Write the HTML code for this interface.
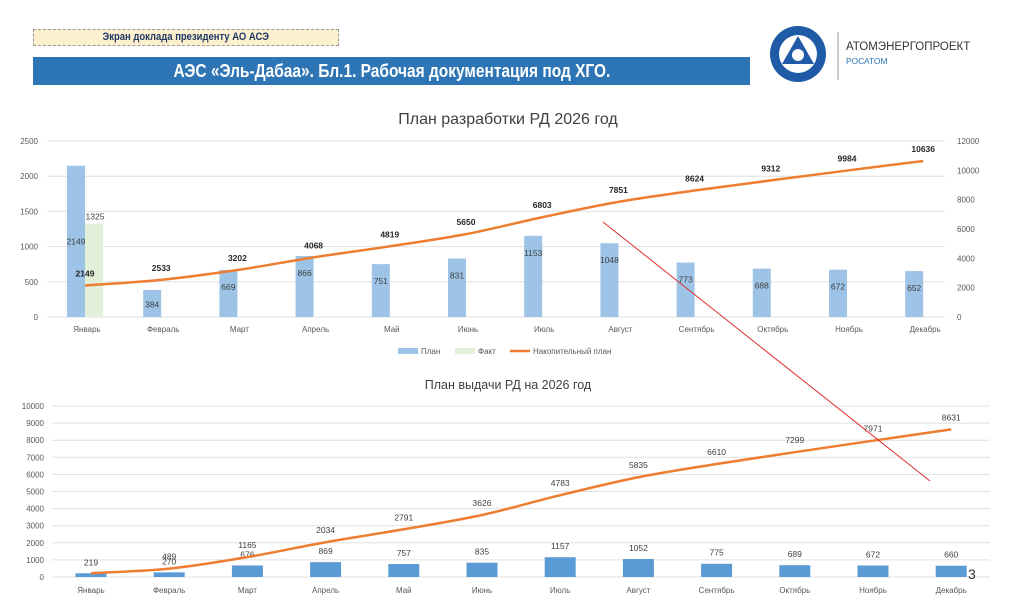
<!DOCTYPE html>
<html><head><meta charset="utf-8">
<style>
body{margin:0;width:1024px;height:603px;background:#fff;font-family:"Liberation Sans",sans-serif;overflow:hidden;position:relative}
.abs{position:absolute}
.narrow{display:inline-block;transform:scaleX(0.86);transform-origin:center}
</style></head><body>
<div class="abs" style="left:33px;top:29px;width:304px;height:15px;background:#fdf0cf;border:1px dashed #999;font-size:11px;font-weight:bold;color:#1f3864;text-align:center;line-height:15px;"><span class="narrow">Экран доклада президенту АО АСЭ</span></div>
<div class="abs" style="left:33px;top:57px;width:717px;height:28px;background:#2e75b6;color:#fff;font-size:18px;font-weight:bold;text-align:center;line-height:28px;"><span class="narrow">АЭС «Эль-Дабаа». Бл.1. Рабочая документация под ХГО.</span></div>
<svg class="abs" style="left:766px;top:24px" width="240" height="62">
<circle cx="32" cy="30" r="28" fill="#1f5aa6"/>
<circle cx="32" cy="30" r="19" fill="#fff"/>
<polygon points="32,12 48,40 16,40" fill="#1f5aa6"/>
<circle cx="32" cy="31" r="6" fill="#fff"/>
<line x1="72" y1="8" x2="72" y2="56" stroke="#999"/>
<text x="80" y="26" font-size="11.5" fill="#333" font-family="Liberation Sans">АТОМЭНЕРГОПРОЕКТ</text>
<text x="80" y="40" font-size="8.5" fill="#2e75b6" font-family="Liberation Sans">РОСАТОМ</text>
</svg>
<svg id="c" class="abs" style="left:0;top:0" width="1024" height="603"></svg>
<div class="abs" style="left:968px;top:566px;font-size:14px;color:#333">3</div>
<script>
const months=["Январь","Февраль","Март","Апрель","Май","Июнь","Июль","Август","Сентябрь","Октябрь","Ноябрь","Декабрь"];
const plan1=[2149,384,669,866,751,831,1153,1048,773,688,672,652];
const fact1=[1325];
const cum1=[2149,2533,3202,4068,4819,5650,6803,7851,8624,9312,9984,10636];
const leftTicks1=[0,500,1000,1500,2000,2500];
const rightTicks1=[0,2000,4000,6000,8000,10000,12000];
const plan2=[219,270,676,869,757,835,1157,1052,775,689,672,660];
const cum2=[219,489,1165,2034,2791,3626,4783,5835,6610,7299,7971,8631];
const ticks2=[0,1000,2000,3000,4000,5000,6000,7000,8000,9000,10000];
const NS="http://www.w3.org/2000/svg";
const svg=document.getElementById('c');
function el(t,a,txt){const e=document.createElementNS(NS,t);for(const k in a)e.setAttribute(k,a[k]);if(txt!==undefined)e.textContent=txt;svg.appendChild(e);return e;}
function smooth(pts){let d="M"+pts[0][0]+","+pts[0][1];for(let i=0;i<pts.length-1;i++){const p0=pts[i-1]||pts[i],p1=pts[i],p2=pts[i+1],p3=pts[i+2]||p2;const c1x=p1[0]+(p2[0]-p0[0])/6,c1y=p1[1]+(p2[1]-p0[1])/6,c2x=p2[0]-(p3[0]-p1[0])/6,c2y=p2[1]-(p3[1]-p1[1])/6;d+=" C"+c1x+","+c1y+" "+c2x+","+c2y+" "+p2[0]+","+p2[1];}return d;}
// Chart 1
const x1=i=>85+i*76.2, yL=v=>317-v/2500*176, yR=v=>317-v/12000*176;
let t=el('text',{x:508,y:124,'font-size':16,fill:'#404040','text-anchor':'middle'},'План  разработки РД 2026 год');

leftTicks1.forEach(v=>{let g=el('line',{x1:47,x2:945,y1:yL(v),y2:yL(v),stroke:'#e0e0e0'});
let l=el('text',{x:38,y:yL(v)+3,'font-size':8,fill:'#595959','text-anchor':'end'},v);});
rightTicks1.forEach(v=>{let l=el('text',{x:957,y:yR(v)+3,'font-size':8,fill:'#595959'},v);});
months.forEach((m,i)=>{const cx=x1(i);
let b=el('rect',{x:cx-18,y:yL(plan1[i]),width:18,height:317-yL(plan1[i]),fill:'#9dc3e6'});
let l=el('text',{x:cx-9,y:(i==0?yL(plan1[i])+79:yL(plan1[i])+Math.min(20,(317-yL(plan1[i]))/2+4)),'font-size':8.5,fill:'#404040','text-anchor':'middle'},plan1[i]);
let x=el('text',{x:cx+2,y:332,'font-size':8,fill:'#595959','text-anchor':'middle'},m);});
fact1.forEach((v,i)=>{const cx=x1(i);let b=el('rect',{x:cx,y:yL(v),width:18,height:317-yL(v),fill:'#e2efd9'});
let l=el('text',{x:cx+10,y:yL(v)-4,'font-size':8.5,fill:'#404040','text-anchor':'middle'},v);});
const p1=cum1.map((v,i)=>[x1(i),yR(v)]);
let ln=el('path',{d:smooth(p1),fill:'none',stroke:'#ed7d31','stroke-width':2.5});
cum1.forEach((v,i)=>{let l=el('text',{x:x1(i),y:yR(v)-9,'font-size':8.5,'font-weight':'bold',fill:'#262626','text-anchor':'middle'},v);});
// legend
let r=el('rect',{x:398,y:348,width:20,height:6,fill:'#9dc3e6'});
el('text',{x:421,y:354,'font-size':8,fill:'#595959'},'План');
r=el('rect',{x:455,y:348,width:20,height:6,fill:'#e2efd9'});
el('text',{x:478,y:354,'font-size':8,fill:'#595959'},'Факт');
r=el('line',{x1:510,x2:530,y1:351,y2:351,stroke:'#ed7d31','stroke-width':2.5});
el('text',{x:533,y:354,'font-size':8,fill:'#595959'},'Накопительный план');
// Chart 2
const x2=i=>91+i*78.2, y2=v=>577-v/10000*171;
t=el('text',{x:508,y:389,'font-size':12.5,fill:'#404040','text-anchor':'middle'},'План выдачи РД на 2026 год');

ticks2.forEach(v=>{let g=el('line',{x1:52,x2:990,y1:y2(v),y2:y2(v),stroke:'#e0e0e0'});
let l=el('text',{x:44,y:y2(v)+3,'font-size':8,fill:'#595959','text-anchor':'end'},v);});
months.forEach((m,i)=>{const cx=x2(i);
let b=el('rect',{x:cx-15.5,y:y2(plan2[i]),width:31,height:577-y2(plan2[i]),fill:'#5b9bd5'});
let l=el('text',{x:cx,y:y2(plan2[i])-8,'font-size':8.5,fill:'#404040','text-anchor':'middle'},plan2[i]);
let x=el('text',{x:cx,y:593,'font-size':8,fill:'#595959','text-anchor':'middle'},m);});
const p2=cum2.map((v,i)=>[x2(i),y2(v)]);
ln=el('path',{d:smooth(p2),fill:'none',stroke:'#ed7d31','stroke-width':2.5});
cum2.forEach((v,i)=>{if(i===0)return;let l=el('text',{x:x2(i),y:y2(v)-9,'font-size':8.5,fill:'#404040','text-anchor':'middle'},v);});
let red=el('line',{x1:603,y1:222,x2:930,y2:481,stroke:'#e03030','stroke-width':1});
</script>
</body></html>
